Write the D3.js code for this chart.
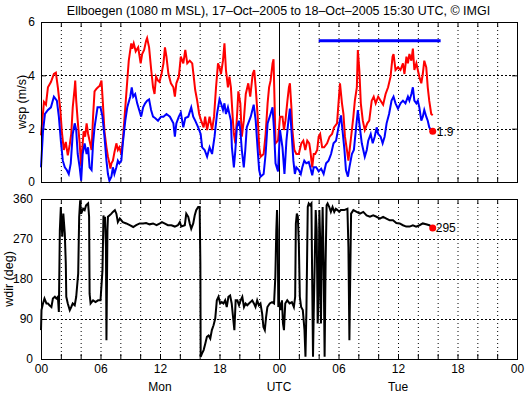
<!DOCTYPE html>
<html>
<head>
<meta charset="utf-8">
<script src="https://cdn.jsdelivr.net/npm/d3@7"></script>
<style>
  body { margin: 0; background: #fff; }
  svg { display: block; font-family: "Liberation Sans", Arial, Helvetica, sans-serif; }
  .axis path { display: none; }
  .axis line { stroke: #000; }
  .axis text { font-size: 12px; fill: #000; font-family: "Liberation Sans", Arial, sans-serif; }
</style>
</head>
<body>
<div id="chart"></div>
<script>
// hours since 17-Oct-2005 00 UTC
const titleText = "Ellboegen (1080 m MSL), 17\u2013Oct\u20132005 to 18\u2013Oct\u20132005 15:30 UTC, \u00a9 IMGI";
const hourTicks = [0, 6, 12, 18, 24, 30, 36, 42, 48];
const hourLabels = ["00", "06", "12", "18", "00", "06", "12", "18", "00"];
const dayLabels = [{ t: 12, label: "Mon" }, { t: 24, label: "UTC" }, { t: 36, label: "Tue" }];
const wspTicks = [0, 2, 4, 6];
const wdirTicks = [0, 90, 180, 270, 360];

// gust (red)
const gustHours = [0,0.3,0.5,0.7,1.0,1.3,1.5,1.7,1.95,2.1,2.3,2.5,2.7,2.9,3.05,3.2,3.4,3.45,3.55,3.7,3.9,4.05,4.15,4.3,4.45,4.6,4.75,4.9,5.1,5.25,5.4,5.6,5.75,5.9,6.1,6.25,6.4,6.6,6.75,6.9,7.0,7.1,7.25,7.4,7.6,7.75,7.9,8.1,8.25,8.5,8.7,8.85,9.1,9.2,9.35,9.55,9.8,10.05,10.2,10.4,10.6,10.7,10.9,11.1,11.3,11.45,11.6,11.8,11.95,12.15,12.35,12.5,12.65,12.85,13.1,13.35,13.5,13.65,13.9,14.1,14.35,14.55,14.75,15.0,15.25,15.4,15.55,15.75,15.95,16.15,16.4,16.55,16.75,17.0,17.25,17.45,17.65,17.85,18.0,18.15,18.35,18.5,18.65,18.85,19.0,19.15,19.35,19.45,19.6,19.8,19.9,20.1,20.25,20.45,20.65,20.9,21.1,21.35,21.5,21.65,21.85,22.0,22.15,22.45,22.65,22.85,23.0,23.15,23.35,23.45,23.55,23.65,23.9,24.1,24.35,24.5,24.65,24.85,25.0,25.1,25.25,25.35,25.55,25.75,26.0,26.25,26.45,26.65,26.85,27.05,27.15,27.35,27.5,27.65,27.85,28.0,28.15,28.35,28.55,28.85,29.1,29.35,29.55,29.85,30.0,30.15,30.35,30.5,30.65,30.85,31.0,31.15,31.35,31.5,31.65,31.85,31.95,32.1,32.25,32.45,32.65,32.9,33.1,33.35,33.55,33.75,34.0,34.25,34.5,34.75,35.0,35.25,35.45,35.55,35.75,36.0,36.25,36.5,36.65,36.85,37.0,37.15,37.35,37.5,37.65,37.85,38.0,38.15,38.35,38.5,38.65,38.85,39.0,39.15,39.35,39.5];
const gustWsp = [1.75,3.0,2.9,3.55,3.75,4.05,4.1,3.55,2.7,1.9,1.2,1.5,1.0,1.4,1.8,2.8,3.55,3.8,3.06,2.3,1.45,0.6,1.2,1.9,1.7,2.2,1.8,1.55,1.2,2.45,3.4,3.5,3.55,3.6,3.8,2.9,1.9,1.3,0.95,0.7,0.5,0.7,0.8,1.1,1.45,1.2,1.3,1.05,1.55,2.8,3.8,4.55,5.2,5.0,5.2,4.9,5.05,4.45,4.8,4.95,5.3,5.4,5.05,4.25,3.55,3.3,3.95,3.8,3.75,4.05,4.45,5.05,4.7,4.05,3.7,3.55,3.2,3.7,3.95,4.7,4.45,4.95,4.45,4.55,4.45,3.95,3.45,3.05,2.55,2.3,2.05,2.45,1.95,2.45,1.95,2.45,3.55,4.45,4.3,4.05,4.55,5.2,4.2,3.55,3.95,3.55,2.3,1.8,1.45,2.7,3.4,2.95,1.7,2.3,3.3,3.7,3.2,4.05,4.2,3.55,2.45,1.3,0.95,1.05,1.8,2.95,3.55,3.8,4.45,4.6,3.05,1.45,1.55,2.45,2.45,1.95,2.3,3.05,3.55,3.7,2.8,1.95,1.2,1.05,1.05,1.45,1.55,1.2,1.55,1.45,1.2,0.55,1.05,1.05,1.2,1.7,1.8,1.3,1.3,1.45,1.7,1.8,2.05,2.2,2.95,3.7,2.95,2.55,1.7,1.2,0.8,1.3,1.95,2.45,3.05,3.55,4.95,4.2,2.95,2.3,1.95,2.2,2.3,3.05,3.2,2.95,3.2,3.05,2.9,3.3,3.55,3.95,4.7,4.8,4.2,4.3,4.2,4.45,4.05,4.7,4.45,4.8,4.55,5.0,4.2,4.45,4.2,3.95,3.7,4.05,4.55,4.3,3.55,3.05,2.55,2.5];

// mean wind (blue)
const meanHours = [0,0.2,0.4,0.7,1.0,1.3,1.6,1.8,2.0,2.2,2.4,2.6,2.8,3.0,3.2,3.4,3.55,3.7,3.9,4.05,4.2,4.4,4.6,4.75,4.9,5.1,5.25,5.4,5.7,6.0,6.2,6.4,6.6,6.75,6.9,7.1,7.25,7.4,7.6,7.75,7.9,8.1,8.25,8.5,8.7,9.0,9.15,9.3,9.5,9.7,9.9,10.1,10.3,10.5,10.7,10.9,11.1,11.3,11.5,11.8,12.1,12.35,12.65,13.0,13.35,13.5,13.65,13.9,14.1,14.35,14.55,14.85,15.15,15.35,15.55,15.85,16.1,16.25,16.5,16.75,17.0,17.25,17.5,17.75,18.0,18.15,18.35,18.5,18.65,18.85,19.0,19.15,19.25,19.45,19.6,19.75,19.95,20.1,20.25,20.45,20.6,20.75,21.0,21.15,21.45,21.65,21.85,22.0,22.15,22.45,22.65,22.85,23.15,23.35,23.5,23.65,23.9,24.1,24.35,24.55,24.75,24.95,25.1,25.25,25.45,25.6,25.75,26.0,26.2,26.35,26.55,26.75,27.0,27.15,27.35,27.5,27.75,28.0,28.25,28.5,28.75,29.0,29.25,29.5,29.75,30.0,30.25,30.4,30.6,30.75,30.95,31.1,31.35,31.55,31.75,31.95,32.15,32.35,32.5,32.65,32.85,33.0,33.25,33.45,33.65,33.85,34.0,34.25,34.45,34.65,34.85,35.1,35.35,35.55,35.75,36.0,36.25,36.5,36.75,37.0,37.15,37.35,37.5,37.65,37.85,38.0,38.15,38.35,38.5,38.65,38.85,39.0,39.15,39.35,39.5];
const meanWsp = [0.55,1.9,2.55,2.7,2.8,3.2,3.05,2.45,1.55,0.8,0.55,0.45,0.3,0.7,1.8,2.2,1.95,1.05,0.55,0.05,1.05,1.45,1.05,1.3,0.55,0.45,1.45,2.05,2.8,2.8,2.45,1.7,0.8,0.3,0.05,0.2,0.55,0.3,0.55,0.8,0.7,0.8,1.45,2.3,2.8,3.2,3.55,3.2,3.3,2.95,2.7,2.45,2.8,2.95,3.05,3.1,2.7,2.45,2.4,2.3,2.45,2.45,2.55,2.45,2.2,1.7,2.2,2.45,2.6,2.05,2.4,2.45,2.8,2.45,2.3,2.05,1.8,1.3,1.2,0.95,1.3,1.05,1.7,2.55,3.1,2.95,2.7,2.95,2.55,2.8,2.55,2.3,1.3,0.55,1.2,2.05,2.3,1.95,1.2,0.55,1.2,2.05,2.3,2.45,2.9,2.3,1.2,0.45,0.2,0.3,1.05,2.2,2.55,2.8,1.95,0.7,0.4,1.95,1.3,0.3,1.55,2.3,2.75,1.95,0.8,0.3,0.55,0.45,0.3,0.55,0.8,0.7,0.75,0.55,0.25,0.55,0.55,0.4,0.5,0.3,0.7,0.8,1.05,1.45,1.55,2.05,2.5,1.95,1.2,0.45,0.2,0.55,1.05,1.2,1.95,2.7,2.05,1.45,1.2,0.95,1.2,1.55,1.8,1.45,1.7,2.05,1.8,1.7,1.45,1.7,2.2,2.55,3.05,3.2,2.95,2.75,2.95,3.05,2.95,3.2,3.05,3.3,3.55,3.05,2.95,3.05,2.8,2.3,2.45,2.7,2.45,2.3,2.05,1.95,1.9];

// wind direction (black)
const dirHours = [0,0.05,0.2,0.35,0.55,0.7,0.85,1.05,1.2,1.4,1.55,1.7,1.8,1.9,2.0,2.05,2.15,2.25,2.4,2.5,2.55,2.7,2.9,3.05,3.2,3.4,3.55,3.75,3.85,3.95,4.05,4.25,4.4,4.55,4.75,4.85,4.9,5.0,5.25,5.5,5.75,6.0,6.2,6.3,6.4,6.45,6.55,6.6,6.7,6.75,6.9,7.1,7.25,7.45,7.6,7.75,7.95,8.25,8.6,8.95,9.3,9.6,9.95,10.3,10.6,10.95,11.3,11.65,12.0,12.2,12.45,12.8,13.15,13.5,13.8,14.0,14.15,14.5,14.65,14.85,15.0,15.15,15.35,15.5,15.65,15.85,16.0,16.07,16.1,16.23,16.4,16.57,16.73,16.9,17.07,17.23,17.4,17.57,17.73,17.9,18.07,18.23,18.4,18.57,18.73,18.9,19.07,19.23,19.4,19.5,19.63,19.8,19.97,20.13,20.3,20.47,20.63,20.8,20.97,21.13,21.3,21.47,21.63,21.8,21.97,22.13,22.3,22.43,22.57,22.7,22.83,23.07,23.3,23.5,23.63,23.73,23.8,23.87,23.93,24.03,24.17,24.3,24.4,24.5,24.63,24.83,25.07,25.3,25.5,25.63,25.7,25.8,25.9,26.0,26.1,26.23,26.4,26.57,26.67,26.77,26.9,27.0,27.13,27.27,27.33,27.43,27.5,27.6,27.7,27.8,27.9,28.0,28.07,28.17,28.23,28.3,28.4,28.5,28.6,28.7,28.8,28.9,29.07,29.23,29.4,29.57,29.73,29.9,30.07,30.23,30.57,30.9,31.0,31.1,31.2,31.27,31.5,31.83,32.17,32.5,32.83,33.17,33.5,33.83,34.17,34.5,34.83,35.17,35.5,35.83,36.17,36.5,36.83,37.17,37.5,37.83,38.17,38.5,38.83,39.17,39.5];
const dirDeg = [65,110,125,136,125,125,121,117,136,140,136,140,106,290,342,312,275,327,282,215,140,125,110,117,125,121,140,192,320,357,327,338,335,346,350,320,147,125,132,128,132,132,200,323,297,320,252,42,290,320,323,327,331,335,327,308,316,308,305,301,297,301,305,305,306,303,305,301,305,308,305,301,301,298,301,308,298,301,327,320,305,293,305,323,335,342,342,215,5,12,20,35,50,53,46,65,76,91,132,140,125,128,125,132,117,140,143,125,87,65,132,132,121,132,140,117,125,121,125,128,132,125,117,132,121,125,102,72,65,95,117,125,128,125,185,290,335,290,117,128,110,132,80,65,125,132,125,128,117,140,305,327,320,260,140,117,110,65,5,117,342,350,346,350,215,5,102,215,335,290,80,140,335,252,80,215,342,215,5,215,346,350,342,331,342,331,338,335,331,335,335,338,252,42,215,327,335,331,327,331,323,320,323,320,316,320,316,312,312,306,305,301,298,298,301,298,301,305,303,301,295];

// observation window bar and latest values
const windowBar = { start: 28, end: 40.3, level: 5.3 };
const latest = { t: 39.5, wsp: 1.9, wdir: 295 };

const W = 525, H = 393;
const svg = d3.select("#chart").append("svg").attr("width", W).attr("height", H);

const x = d3.scaleLinear().domain([0, 48]).range([41, 517]);
const yWsp = d3.scaleLinear().domain([0, 6]).range([182, 22]);
const yDir = d3.scaleLinear().domain([0, 360]).range([359, 199]);
const gridHours = d3.range(2, 48, 2).filter(h => h !== 24);

svg.append("text")
    .attr("x", 278.5).attr("y", 15)
    .attr("text-anchor", "middle")
    .style("font-size", "12.5px")
    .text(titleText);

function drawPanel(y, yTicks, gridVals, label, labelX, pad) {
    const top = y.range()[1], bottom = y.range()[0];
    const g = svg.append("g");

    // dotted grid
    g.selectAll(".vgrid").data(gridHours).join("line")
        .attr("x1", d => x(d) + 0.5).attr("x2", d => x(d) + 0.5)
        .attr("y1", top).attr("y2", bottom)
        .attr("stroke", "#000").attr("stroke-dasharray", "1,3");
    g.selectAll(".hgrid").data(gridVals).join("line")
        .attr("x1", x(0)).attr("x2", x(48))
        .attr("y1", d => Math.round(y(d)) + 0.5).attr("y2", d => Math.round(y(d)) + 0.5)
        .attr("stroke", "#000").attr("stroke-dasharray", "2,2");
    // midnight line
    g.append("line")
        .attr("x1", x(24) + 0.5).attr("x2", x(24) + 0.5)
        .attr("y1", top).attr("y2", bottom)
        .attr("stroke", "#000");

    // inward ticks
    const allHours = d3.range(0, 49, 2);
    g.append("g").attr("class", "axis").attr("transform", `translate(0,${bottom})`)
        .call(d3.axisBottom(x).tickValues(allHours).tickSize(-5).tickFormat(""));
    g.append("g").attr("class", "axis").attr("transform", `translate(0,${top})`)
        .call(d3.axisTop(x).tickValues(allHours).tickSize(-5).tickFormat(""));
    g.append("g").attr("class", "axis").attr("transform", `translate(${x(0)},0)`)
        .call(d3.axisLeft(y).tickValues(yTicks).tickSize(-5).tickPadding(pad).tickFormat(d3.format("d")));
    g.append("g").attr("class", "axis").attr("transform", `translate(${x(48)},0)`)
        .call(d3.axisRight(y).tickValues(yTicks).tickSize(-5).tickFormat(""));

    g.append("text")
        .attr("transform", `translate(${labelX},${(top + bottom) / 2}) rotate(-90)`)
        .attr("text-anchor", "middle")
        .style("font-size", "12.5px")
        .text(label);
    return g;
}

function frame(y) {
    const top = y.range()[1], bottom = y.range()[0];
    svg.append("rect")
        .attr("x", x(0) + 0.5).attr("y", top + 0.5)
        .attr("width", x(48) - x(0)).attr("height", bottom - top)
        .attr("fill", "none").attr("stroke", "#000");
}

// top panel: wind speed
drawPanel(yWsp, wspTicks, [2, 4], "wsp (m/s)", 26, 6);

const lineWsp = d3.line().x(d => x(d[0])).y(d => yWsp(d[1]));
svg.append("path")
    .datum(gustHours.map((t, i) => [t, gustWsp[i]]))
    .attr("d", lineWsp)
    .attr("fill", "none").attr("stroke", "#ff0000").attr("stroke-width", 2);
svg.append("path")
    .datum(meanHours.map((t, i) => [t, meanWsp[i]]))
    .attr("d", lineWsp)
    .attr("fill", "none").attr("stroke", "#0000ff").attr("stroke-width", 2);

svg.append("line")
    .attr("x1", x(windowBar.start)).attr("x2", x(windowBar.end))
    .attr("y1", yWsp(windowBar.level)).attr("y2", yWsp(windowBar.level))
    .attr("stroke", "#0000ff").attr("stroke-width", 3);

svg.append("circle")
    .attr("cx", x(latest.t)).attr("cy", yWsp(latest.wsp)).attr("r", 3.5)
    .attr("fill", "#ff0000");
svg.append("text")
    .attr("x", x(latest.t) + 4).attr("y", yWsp(latest.wsp) + 4.5)
    .style("font-size", "12px")
    .text(latest.wsp.toFixed(1));
frame(yWsp);

// bottom panel: wind direction
drawPanel(yDir, wdirTicks, [90, 180, 270], "wdir (deg)", 13, 8);

const lineDir = d3.line().x(d => x(d[0])).y(d => yDir(d[1]));
svg.append("path")
    .datum(dirHours.map((t, i) => [t, dirDeg[i]]))
    .attr("d", lineDir)
    .attr("fill", "none").attr("stroke", "#000").attr("stroke-width", 2);

svg.append("circle")
    .attr("cx", x(latest.t)).attr("cy", yDir(latest.wdir)).attr("r", 3.5)
    .attr("fill", "#ff0000");
svg.append("text")
    .attr("x", x(latest.t) + 3).attr("y", yDir(latest.wdir) + 4.5)
    .style("font-size", "12px")
    .text(latest.wdir);
frame(yDir);

// x labels
svg.append("g").attr("class", "axis").attr("transform", `translate(0,${yDir.range()[0]})`)
    .call(d3.axisBottom(x).tickValues(hourTicks).tickSize(0).tickPadding(5)
        .tickFormat((d, i) => hourLabels[i]));
svg.selectAll(".daylabel").data(dayLabels).join("text")
    .attr("x", d => x(d.t)).attr("y", 391)
    .attr("text-anchor", "middle")
    .style("font-size", "12px")
    .text(d => d.label);
</script>
</body>
</html>
